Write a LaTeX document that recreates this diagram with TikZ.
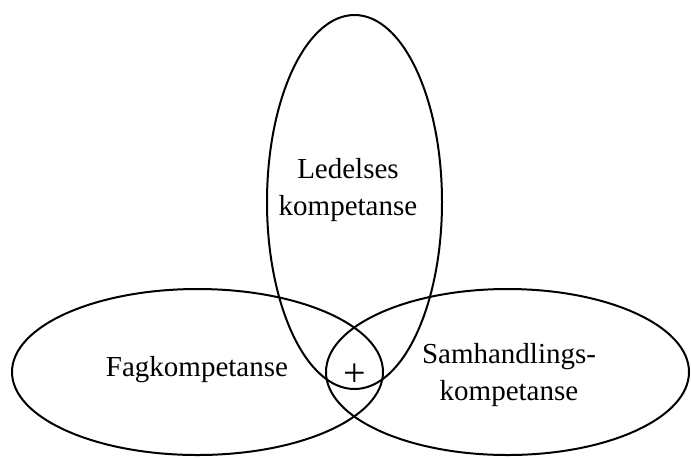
\documentclass[tikz,border=0pt]{standalone}
\usepackage{fontspec}
\setmainfont{Liberation Serif}
\usepackage{tikz}
\usetikzlibrary{positioning, shapes.geometric}
\tikzset{
    ring/.style    = {draw, ellipse, line width=1pt, inner sep=0pt},
    ringlbl/.style = {align=center, inner sep=0pt,
                      font=\fontsize{14.5}{18.5}\selectfont},
    plusmark/.style = {inner sep=0pt, font=\fontsize{20}{24}\selectfont},
}
\begin{document}
\begin{tikzpicture}[x=0.5pt, y=-0.5pt]
\useasboundingbox (0,0) rectangle (691,457);

\node[ring, minimum width=87.5pt, minimum height=187pt] (lead) at (354.5,202) {};
\node[ring, minimum width=185.5pt, minimum height=83pt] (fag) at (197.5,372) {};
\node[ring, minimum width=181.5pt, minimum height=83pt] (sam) at (507.5,372) {};

\node[ringlbl] (leadtxt) at (348,190) {Ledelses\\kompetanse};
\node[ringlbl] (fagtxt) at (197,370) {Fagkompetanse};
\node[ringlbl] (samtxt) at (509,375) {Samhandlings-\\kompetanse};
\node[plusmark] (core) at (355,375) {+};

\end{tikzpicture}
\end{document}
